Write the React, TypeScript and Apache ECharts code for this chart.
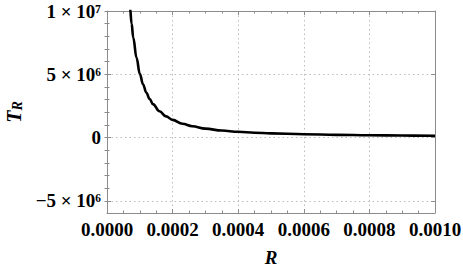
import React, { useEffect, useRef } from "react";
import * as echarts from "echarts";

// Data
const rValues = [0.000065, 0.00007, 0.000075, 0.00008, 0.00009, 0.0001, 0.00011, 0.00012, 0.00013, 0.00014, 0.00016, 0.00018, 0.0002, 0.00023, 0.00026, 0.0003, 0.00035, 0.0004, 0.00045, 0.0005, 0.0006, 0.0007, 0.0008, 0.0009, 0.001];
const tValues = [1.2e7, 1.03e7, 9.0e6, 7.9e6, 6.3e6, 5.05e6, 4.2e6, 3.55e6, 3.05e6, 2.65e6, 2.08e6, 1.68e6, 1.4e6, 1.1e6, 9.0e5, 7.1e5, 5.6e5, 4.6e5, 3.9e5, 3.4e5, 2.7e5, 2.2e5, 1.9e5, 1.65e5, 1.5e5];

const xTickValues = [0, 0.0002, 0.0004, 0.0006, 0.0008, 0.001];
const xTickLabels = ["0.0000", "0.0002", "0.0004", "0.0006", "0.0008", "0.0010"];
const yTickValues = [-5e6, 0, 5e6, 1e7];
const yTickLabels = ["\u22125 \u00d7 10\u2076", "0", "5 \u00d7 10\u2076", "1 \u00d7 10\u2077"];
const yMinorValues = [-5e6, -4e6, -3e6, -2e6, -1e6, 0, 1e6, 2e6, 3e6, 4e6, 5e6, 6e6, 7e6, 8e6, 9e6, 1e7];

const X_MIN = 0;
const X_MAX = 0.001;
const Y_MIN = -5.95e6;
const Y_MAX = 1e7;

const FONT = "Liberation Serif";
const FRAME = "#8c8c8c";
const GRIDLINE = { show: true, lineStyle: { color: "#bdbdbd", type: [1.5, 3], width: 1 } };

export default function App() {
  const ref = useRef<HTMLDivElement>(null);
  useEffect(() => {
    if (!ref.current) return;
    const chart = echarts.init(ref.current, undefined, { renderer: "svg" });
    const data = rValues.map((r, i) => [r, tValues[i]]);
    const hiddenLabel = { show: false };
    const axisLine = { show: true, onZero: false, lineStyle: { color: FRAME, width: 1 } };
    const majorTick = { show: true, inside: true, length: 4, lineStyle: { color: FRAME } };
    const minorTickX = { show: true, splitNumber: 4, length: 2.5, lineStyle: { color: FRAME } };
    chart.setOption({
      animation: false,
      backgroundColor: "#ffffff",
      grid: { left: 107, top: 11, right: 28, bottom: 59, containLabel: false, outerBoundsMode: "none" },
      xAxis: [
        {
          type: "value",
          position: "bottom",
          min: X_MIN,
          max: X_MAX,
          interval: 0.0002,
          axisLine,
          axisTick: majorTick,
          minorTick: minorTickX,
          axisLabel: {
            show: true,
            margin: 7,
            fontFamily: FONT,
            fontSize: 19,
            fontWeight: "bold",
            color: "#000",
            formatter: (v: number) => {
              const i = xTickValues.findIndex((t) => Math.abs(t - v) < 1e-9);
              return i >= 0 ? xTickLabels[i] : "";
            },
          },
          splitLine: GRIDLINE,
          name: "R",
          nameLocation: "middle",
          nameGap: 35,
          nameTextStyle: { fontFamily: FONT, fontSize: 19, fontWeight: "bold", fontStyle: "italic", color: "#000" },
        },
        {
          type: "value",
          position: "top",
          min: X_MIN,
          max: X_MAX,
          interval: 0.0002,
          axisLine,
          axisTick: majorTick,
          minorTick: minorTickX,
          axisLabel: hiddenLabel,
          splitLine: { show: false },
        },
      ],
      yAxis: [
        {
          type: "value",
          position: "left",
          min: Y_MIN,
          max: Y_MAX,
          axisLine,
          axisTick: { ...majorTick, customValues: yTickValues },
          axisLabel: {
            show: true,
            margin: 6,
            customValues: yTickValues,
            fontFamily: FONT,
            fontSize: 19,
            fontWeight: "bold",
            color: "#000",
            formatter: (v: number) => {
              const i = yTickValues.findIndex((t) => Math.abs(t - v) < 1);
              return i >= 0 ? yTickLabels[i] : "";
            },
          },
          splitLine: GRIDLINE,
          name: "T{r|R}",
          nameLocation: "middle",
          nameRotate: 90,
          nameGap: 83,
          nameTextStyle: {
            fontFamily: FONT,
            fontSize: 20,
            fontWeight: "bold",
            fontStyle: "italic",
            color: "#000",
            lineHeight: 20,
            rich: {
              r: { fontFamily: FONT, fontSize: 14, fontWeight: "bold", fontStyle: "italic", color: "#000", verticalAlign: "bottom", lineHeight: 14 },
            },
          },
        },
        {
          type: "value",
          position: "left",
          min: Y_MIN,
          max: Y_MAX,
          axisLine: { show: false },
          axisTick: { show: true, inside: true, length: 2.5, customValues: yMinorValues, lineStyle: { color: FRAME } },
          axisLabel: hiddenLabel,
          splitLine: { show: false },
        },
        {
          type: "value",
          position: "right",
          min: Y_MIN,
          max: Y_MAX,
          axisLine,
          axisTick: { ...majorTick, customValues: yTickValues },
          axisLabel: hiddenLabel,
          splitLine: { show: false },
        },
        {
          type: "value",
          position: "right",
          min: Y_MIN,
          max: Y_MAX,
          axisLine: { show: false },
          axisTick: { show: true, inside: true, length: 2.5, customValues: yMinorValues, lineStyle: { color: FRAME } },
          axisLabel: hiddenLabel,
          splitLine: { show: false },
        },
      ],
      series: [
        {
          type: "line",
          data,
          xAxisIndex: 0,
          yAxisIndex: 0,
          showSymbol: false,
          smooth: 0.4,
          smoothMonotone: "x",
          clip: true,
          lineStyle: { color: "#000", width: 2.6 },
        },
      ],
    });
    return () => chart.dispose();
  }, []);
  return (
    <div
      ref={ref}
      style={{ position: "fixed", left: 0, top: 0, width: 463, height: 272, background: "#fff" }}
    />
  );
}
